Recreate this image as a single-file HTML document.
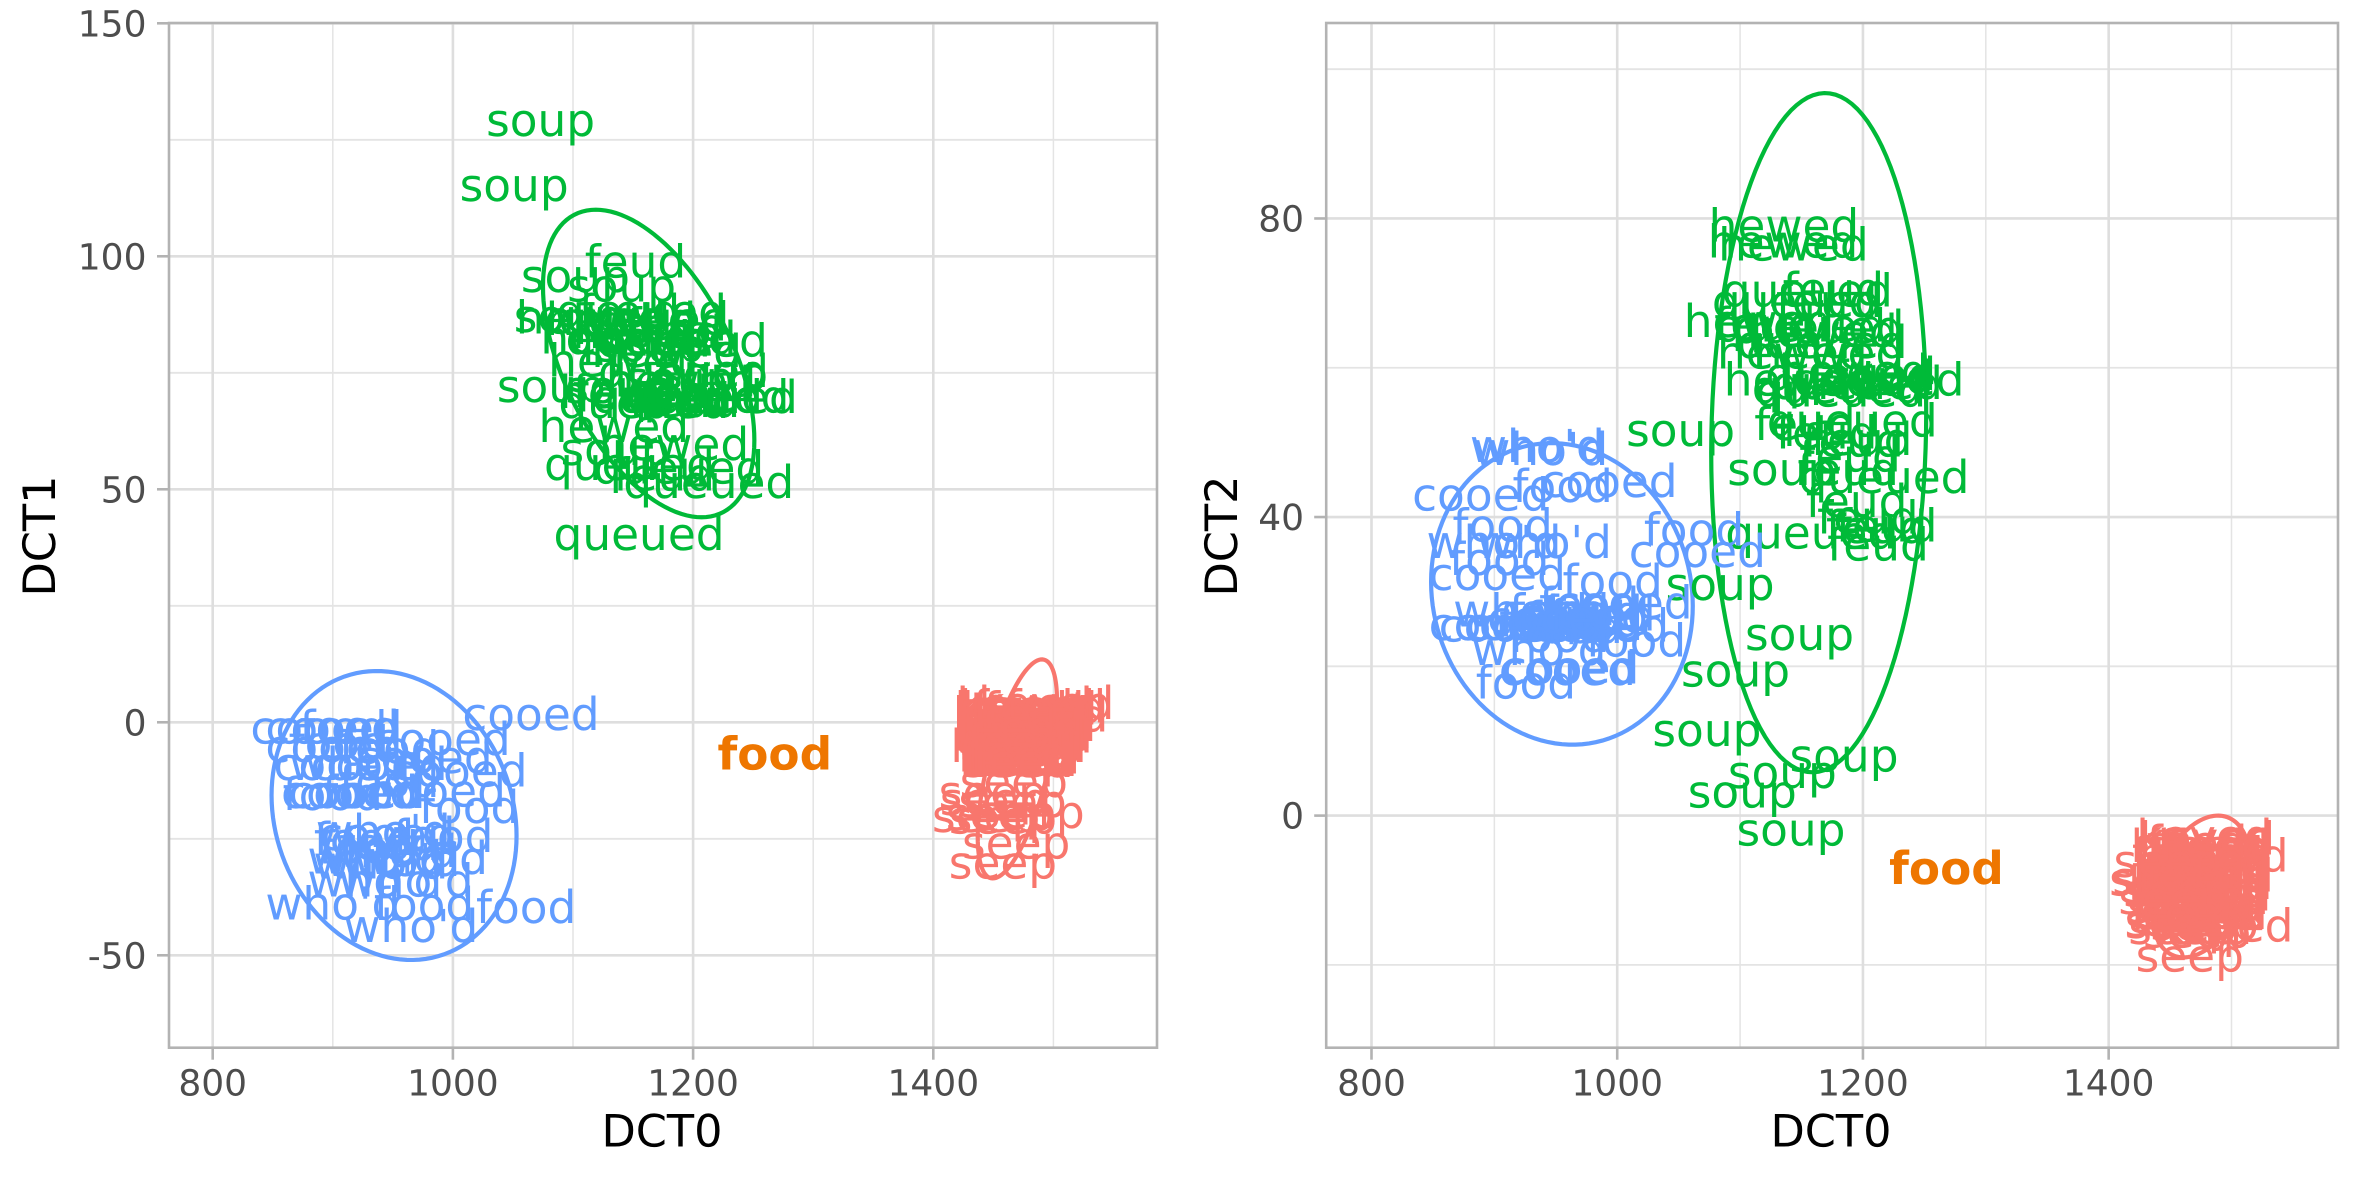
<!DOCTYPE html>
<html lang="en">
<head>
<meta charset="utf-8">
<title>DCT vowel scatter</title>
<style>
html,body{margin:0;padding:0;background:#fff;width:2362px;height:1181px;overflow:hidden}
svg{display:block;font-family:"DejaVu Sans","Liberation Sans",sans-serif;text-rendering:geometricPrecision}
</style>
</head>
<body>
<svg id="chart" xmlns="http://www.w3.org/2000/svg" width="2362" height="1181" viewBox="0 0 2362 1181">
<rect x="0" y="0" width="2362" height="1181" fill="#ffffff"/>
<g id="panelA"></g>
<g id="panelB"></g>
<text x="662" y="1146.5" font-size="44.6" text-anchor="middle" fill="#000">DCT0</text>
<text x="1831" y="1146.5" font-size="44.6" text-anchor="middle" fill="#000">DCT0</text>
<text transform="translate(55,536) rotate(-90)" font-size="44.6" text-anchor="middle" fill="#000">DCT1</text>
<text transform="translate(1237,536) rotate(-90)" font-size="44.6" text-anchor="middle" fill="#000">DCT2</text>
</svg>
<script>
const xTicks = [800, 1000, 1200, 1400];
const xMinor = [900, 1100, 1300, 1500];
const yTicksA = [-50, 0, 50, 100, 150];
const yMinorA = [-25, 25, 75, 125];
const yTicksB = [0, 40, 80];
const yMinorB = [-20, 20, 60, 100];

const ellipseColors = ['#F8766D', '#00BA38', '#619CFF'];
const ellipseCxA = [1470, 1163, 951];
const ellipseRxA = [33, 88, 102];
const ellipseCyA = [-10, 77, -20];
const ellipseRyA = [23.5, 33, 31];
const ellipseRhoA = [0.62, -0.5, -0.14];
const ellipseCxB = [1475, 1164, 955];
const ellipseRxB = [40, 87.5, 106.5];
const ellipseCyB = [-9.5, 51.3, 29.7];
const ellipseRyB = [9.5, 45.5, 20.2];
const ellipseRhoB = [0.35, 0.06, -0.08];

const redWordsA = ['seep','seep','seep','seep','seep','seep','seep','seep','seep','seep','seep',
 'keyed','keyed','keyed','keyed','keyed','keyed','keyed','keyed','keyed','keyed','keyed','keyed','keyed','keyed',
 'heed','heed','heed','heed','heed','heed','heed','heed','heed','heed','heed','heed','heed','heed','heed','heed','heed',
 'feed','feed','feed','feed','feed','feed','feed','feed','feed','feed','feed','feed','feed','feed','feed','feed','feed','feed','feed','feed'];
const redXA = [1458,1469,1444,1481,1458,1450.5,1466,1449.5,1455.5,1467,1469,
 1476,1478,1494,1480,1489,1475,1477,1474,1476,1479,1474,1471,1473,1476,
 1465,1470,1466,1472,1478,1480,1481,1468,1476,1479,1470,1475,1473,1468,1469,1470,1468,
 1462,1468,1475,1480,1484,1486,1502,1485,1482,1483,1464,1472,1480,1478,1461,1470,1463,1466,1472,1475];
const redYA = [-30,-25.7,-20,-19.2,-20.3,-16.4,-16.8,-14.9,-19.6,-12.5,-8.2,
 4,3.5,4.2,3,1.5,1,0,-1,-2,-0.5,-2.5,-5,2,-3,
 3,1,0,-1.5,2.5,0.5,-1,-3.5,-4,-5,-6,-7.5,-8,-7,-8.2,-6,-4.5,
 1,-1,3.5,-3,3,1,3.5,1.5,-1,-3,-5.5,-8,-7,-6,-1,-4,-7,-8,-6.5,-8.2];

const greenWordsA = ['queued','queued','queued','queued','soup','hewed','feud','hewed','soup','queued','queued','feud','feud','queued','soup','soup','hewed','queued','hewed','hewed','soup','queued','feud','soup','soup','hewed','queued','feud','hewed','queued','soup','hewed','soup','feud','queued','hewed','feud','soup','hewed','queued','soup','soup'];
const greenXA = [1155,1213,1188,1147,1135,1184,1176,1134,1082,1216,1159,1189,1197,1187,1139,1217,1142,1191,1135.5,1115,1096,1157,1152,1102,1140.5,1140,1159,1147,1162,1165,1164,1178,1170,1186,1192,1190,1142,1189,1151,1209,1073,1051];
const greenYA = [40.5,51.6,54.8,55.5,58.7,59.8,53.3,63.7,72.3,69.9,68.8,69.4,69,70,72,74.9,77.7,82,82.7,87,87.3,88.4,99,95.9,93.8,86.6,86.7,88.4,83.8,82.6,80.9,79.8,84,85.5,75.5,73.4,71.2,74,71,70,129.3,115.4];

const blueWordsA = ['cooed','cooed','cooed','food','cooed','cooed','food','cooed','food','cooed','cooed',"who'd",'cooed','cooed','food','cooed','food','cooed','food','food',"who'd",'food','food','cooed',"who'd",'food',"who'd","who'd","who'd","who'd","who'd","who'd",'food','food',"who'd","who'd",'food'];
const blueXA = [1065,888.5,901,914,991,901,905,976,947,1005,907.7,920,938.5,914,900,920,933,987,947,1013.5,942,992,926,945,973,930,935,940,950,935,961,900,976,1061,965,947.6,947];
const blueYA = [1.85,-1,-1,-0.9,-3.5,-5,-4.2,-7.4,-5.3,-10.3,-8.9,-8.9,-8.9,-14.9,-15.3,-14.9,-14.9,-14.6,-12.5,-18.1,-23.2,-24.3,-25,-23.9,-29,-26.8,-28.9,-30,-29.5,-33.9,-33.9,-38.8,-38.9,-39.6,-43.6,-27.5,-26];

const redWordsB = ['keyed','seep','seep','seep','seep','seep','seep',
 'keyed','keyed','keyed','keyed','keyed','keyed','keyed','keyed','keyed',
 'heed','heed','heed','heed','heed','heed','heed','heed','heed','heed','heed','heed','heed','heed','heed','heed',
 'feed','feed','feed','feed','feed','feed','feed','feed','feed','feed','feed','feed','feed','feed',
 'seep','seep','seep','seep','seep','seep','seep','seep'];
const redXB = [1495,1466,1457,1457.3,1444.5,1447,1459,
 1478,1480,1491,1476,1479,1478,1475,1477,1474,
 1464,1470,1480,1486,1488,1466,1474,1484,1486,1462,1470,1480,1485,1466,1474,1480,
 1460,1472,1482,1490,1492,1493,1490,1460,1464,1470,1480,1488,1467,1476,
 1468,1456,1452,1460,1470,1478,1472,1448];
const redYB = [-14.7,-18.7,-14,-14.2,-8.5,-8.3,-12.2,
 -2.7,-3,-5.3,-6,-8,-9,-11,-10.5,-13,
 -4,-5,-5,-4,-4.5,-7,-7.5,-7,-7,-9,-10,-9.5,-9.5,-12,-12,-12,
 -5,-3.5,-4,-4,-5,-6,-8,-7.5,-10,-8,-13,-11,-14,-15,
 -11,-10,-11,-15,-13,-14.5,-15.5,-6];

const greenWordsB = ['hewed','hewed','hewed','queued','feud','queued','feud','hewed','feud','queued','hewed','queued','hewed','hewed','queued','hewed','queued','queued','queued','feud','queued','hewed','queued','queued','feud','feud','feud','feud','soup','feud','queued','feud','feud','queued','feud','feud','feud','feud','soup','soup','soup','soup','soup','soup','soup','soup','soup'];
const greenXB = [1135.7,1135,1143.4,1154.7,1175.9,1146.6,1170.5,1115.4,1120.3,1164.2,1167,1149.3,1142.5,1172.4,1166.7,1148,1213,1179.1,1190,1216.4,1181.9,1192.7,1195.4,1191.3,1152.8,1170.5,1192,1199,1133.9,1189.5,1217.1,1188,1194.9,1157.5,1204,1219.3,1211.2,1212.3,1051.6,1083.7,1148.4,1096.3,1073,1184.6,1134.4,1101.8,1141.4];
const greenYB = [79.1,77,76.6,70.4,70.6,69,69,66.3,65.9,65.5,65,65.7,62.1,62.1,63.5,58.5,58.5,57.5,59.2,58.8,57.0,59.6,58.0,53,52.5,51.4,50.3,50.5,46.5,48.3,45.4,46.5,42.2,38,40,38.9,38.7,36.4,51.7,31.1,24.4,19.5,11.5,8.1,5.9,3.3,-1.8];

const blueWordsB = ["who'd","who'd",'cooed','food','cooed','food',"who'd","who'd",'food','food','cooed','cooed','food','cooed','cooed','cooed','cooed',"who'd",'cooed','food','food','cooed','food','food','food','cooed',"who'd",'food',"who'd",'cooed','food','food','cooed','cooed','cooed','food','food','cooed'];
const blueXB = [935,937.7,888.9,955.6,993.3,906.8,899.7,940.7,1062.5,904,902.4,1065.2,996.3,1005.5,902.4,910.5,922.8,921.4,932.3,952.9,977.3,986.5,1015.3,966.5,944.7,964.8,936.3,963.8,966.2,975.5,985.4,952.9,962.1,959.4,960.8,925.7,980,950];
const blueYB = [49.6,49.2,43.1,44.2,44.9,38.9,36.7,36.7,38.4,34.4,32.4,35.5,31.5,28.6,25.7,25.5,25.7,27.5,25.7,27.5,28.4,25.5,23.5,26.5,26.2,26.2,22.4,25.3,25.7,27,26.8,24.1,19.9,19.7,19.9,17.9,27.3,26.6];

const focusWord = ['food'];
const focusXA = [1268];
const focusYA = [-6.6];
const focusXB = [1268];
const focusYB = [-7];

const NS = 'http://www.w3.org/2000/svg';
const panelTop = 23, panelBottom = 1047.7;
const panelA = {g: document.getElementById('panelA'), left: 169, right: 1157,
  x: v => 212.7 + (v - 800) * 1.201, y: v => 722.3 - v * 4.66, labelX: 146.5};
const panelB = {g: document.getElementById('panelB'), left: 1326.2, right: 2338,
  x: v => 1371.5 + (v - 800) * 1.2286, y: v => 815.6 - v * 7.464, labelX: 1304};

function makeLine(parent, name, x1, y1, x2, y2, color, width) {
  const el = document.createElementNS(NS, 'line');
  
  
  el.setAttribute('x1', x1);
  el.setAttribute('y1', y1);
  el.setAttribute('x2', x2);
  el.setAttribute('y2', y2);
  el.setAttribute('stroke', color);
  el.setAttribute('stroke-width', width);
  parent.appendChild(el);
}

function makeText(parent, name, x, y, str, size, color, anchor, weight) {
  const el = document.createElementNS(NS, 'text');
  
  
  el.setAttribute('x', x);
  el.setAttribute('y', y);
  el.setAttribute('font-size', size);
  el.setAttribute('fill', color);
  el.setAttribute('text-anchor', anchor);
  if (weight) el.setAttribute('font-weight', weight);
  el.textContent = str;
  parent.appendChild(el);
}

function drawAxes(p, yMajor, yMinor) {
  const g = p.g;
  xMinor.forEach(v => makeLine(g, 'x-minor-gridline', p.x(v), panelTop, p.x(v), panelBottom, '#E4E4E4', 1.5));
  yMinor.forEach(v => makeLine(g, 'y-minor-gridline', p.left, p.y(v), p.right, p.y(v), '#E4E4E4', 1.8));
  xTicks.forEach(v => makeLine(g, 'x-major-gridline', p.x(v), panelTop, p.x(v), panelBottom, '#DEDEDE', 2.6));
  yMajor.forEach(v => makeLine(g, 'y-major-gridline', p.left, p.y(v), p.right, p.y(v), '#DEDEDE', 2.6));
  xTicks.forEach(v => {
    makeLine(g, 'x-tick', p.x(v), panelBottom, p.x(v), panelBottom + 12, '#B3B3B3', 2.6);
    makeText(g, 'x-tick-label', p.x(v), 1095.5, String(v), 36, '#4D4D4D', 'middle');
  });
  yMajor.forEach(v => {
    makeLine(g, 'y-tick', p.left - 12, p.y(v), p.left, p.y(v), '#B3B3B3', 2.6);
    makeText(g, 'y-tick-label', p.labelX, p.y(v) + 13, String(v), 36, '#4D4D4D', 'end');
  });
}

function drawEllipses(p, cxs, rxs, cys, rys, rhos) {
  cxs.forEach((cx, i) => {
    const d = Math.acos(rhos[i]);
    let path = '';
    for (let k = 0; k <= 120; k++) {
      const t = k / 120 * 2 * Math.PI;
      const px = p.x(cx + rxs[i] * Math.cos(t));
      const py = p.y(cys[i] + rys[i] * Math.cos(t - d));
      path += (k ? 'L' : 'M') + px.toFixed(2) + ' ' + py.toFixed(2);
    }
    const el = document.createElementNS(NS, 'path');
    
    
    el.setAttribute('d', path + 'Z');
    el.setAttribute('fill', 'none');
    el.setAttribute('stroke', ellipseColors[i]);
    el.setAttribute('stroke-width', 4.2);
    p.g.appendChild(el);
  });
}

function drawLabels(p, words, xs, ys, color, name, weight) {
  words.forEach((w, i) => {
    makeText(p.g, name, p.x(xs[i]), p.y(ys[i]) + 16.4, w, 45.4, color, 'middle', weight);
  });
}

function drawBorder(p) {
  const el = document.createElementNS(NS, 'rect');
  
  
  el.setAttribute('x', p.left);
  el.setAttribute('y', panelTop);
  el.setAttribute('width', p.right - p.left);
  el.setAttribute('height', panelBottom - panelTop);
  el.setAttribute('fill', 'none');
  el.setAttribute('stroke', '#B3B3B3');
  el.setAttribute('stroke-width', 2.6);
  p.g.appendChild(el);
}

drawAxes(panelA, yTicksA, yMinorA);
drawEllipses(panelA, ellipseCxA, ellipseRxA, ellipseCyA, ellipseRyA, ellipseRhoA);
drawLabels(panelA, redWordsA, redXA, redYA, '#F8766D', 'word-label-red');
drawLabels(panelA, greenWordsA, greenXA, greenYA, '#00BA38', 'word-label-green');
drawLabels(panelA, blueWordsA, blueXA, blueYA, '#619CFF', 'word-label-blue');
drawLabels(panelA, focusWord, focusXA, focusYA, '#EE7600', 'focus-word-label', 'bold');
drawBorder(panelA);

drawAxes(panelB, yTicksB, yMinorB);
drawEllipses(panelB, ellipseCxB, ellipseRxB, ellipseCyB, ellipseRyB, ellipseRhoB);
drawLabels(panelB, redWordsB, redXB, redYB, '#F8766D', 'word-label-red');
drawLabels(panelB, greenWordsB, greenXB, greenYB, '#00BA38', 'word-label-green');
drawLabels(panelB, blueWordsB, blueXB, blueYB, '#619CFF', 'word-label-blue');
drawLabels(panelB, focusWord, focusXB, focusYB, '#EE7600', 'focus-word-label', 'bold');
drawBorder(panelB);
</script>
</body>
</html>
